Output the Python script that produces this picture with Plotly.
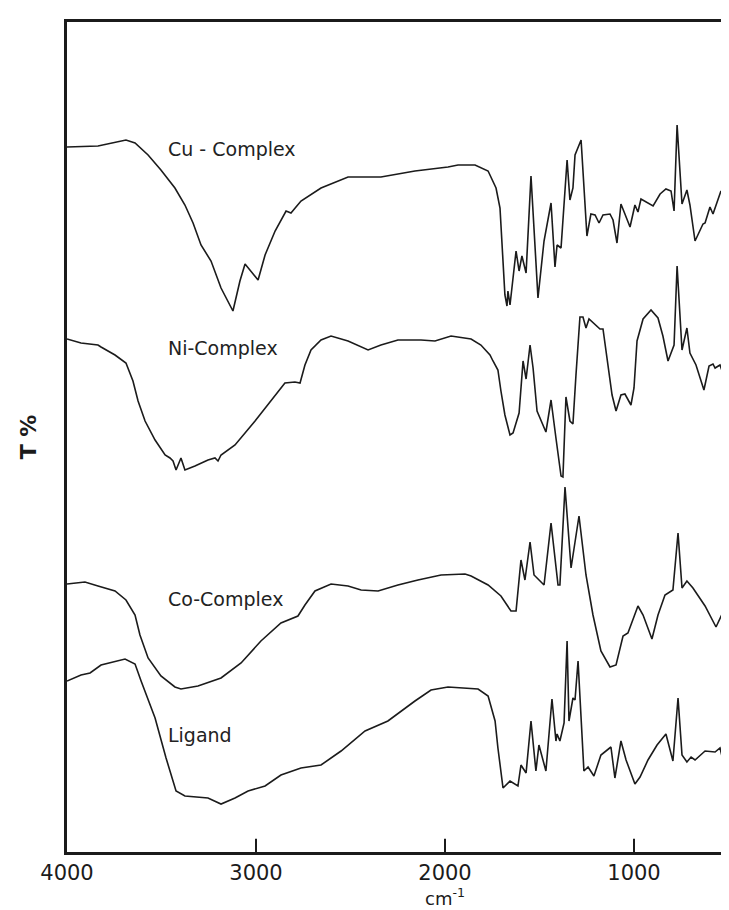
import plotly.graph_objects as go

# Wavenumber (cm^-1) and transmittance (arbitrary offset units)
cu_wn = [4000, 3836, 3688, 3640, 3571, 3503, 3429, 3376, 3333, 3291, 3238, 3185, 3122, 3085, 3058, 3026, 2989, 2952,
         2899, 2841, 2815, 2762, 2656, 2513, 2339, 2159, 1984, 1931, 1841, 1772, 1730, 1709, 1693, 1683, 1672, 1667,
         1656, 1624, 1608, 1593, 1571, 1545, 1508, 1476, 1439, 1418, 1407, 1386, 1354, 1339, 1323, 1312, 1280, 1249,
         1228, 1206, 1185, 1164, 1127, 1111, 1090, 1069, 1048, 1021, 995, 979, 963, 937, 899, 862, 831, 804, 788, 772,
         746, 720, 704, 677, 635, 624, 598, 582, 540, 519, 455]
cu_t = [70.5, 70.6, 71.2, 70.9, 69.7, 68.2, 66.4, 64.7, 62.9, 60.7, 59.1, 56.4, 54.1, 57.1, 58.8, 58.1, 57.2, 59.7,
        62.1, 64.1, 63.9, 65.1, 66.4, 67.5, 67.5, 68.1, 68.5, 68.7, 68.7, 68.1, 66.4, 64.4, 59.4, 55.7, 54.6, 56.1,
        54.7, 60.1, 58.1, 59.6, 57.9, 67.6, 55.4, 61.1, 64.9, 58.5, 60.7, 60.4, 69.2, 65.2, 66.4, 69.7, 71.2, 61.6,
        63.8, 63.7, 62.9, 63.7, 63.8, 63.2, 60.9, 64.8, 63.8, 62.5, 64.7, 64.0, 65.3, 65.0, 64.6, 65.8, 66.3, 66.1,
        64.1, 72.7, 64.8, 66.2, 64.7, 61.1, 62.8, 62.9, 64.5, 63.8, 66.1, 65.0, 65.5]

ni_wn = [4000, 3926, 3836, 3820, 3746, 3688, 3651, 3624, 3587, 3534, 3481, 3455, 3439, 3423, 3397, 3376, 3323, 3254,
         3217, 3201, 3185, 3111, 3005, 2899, 2847, 2794, 2767, 2741, 2709, 2656, 2603, 2513, 2407, 2339, 2249, 2127,
         2053, 1968, 1931, 1862, 1810, 1762, 1746, 1720, 1704, 1683, 1656, 1640, 1608, 1587, 1571, 1550, 1534, 1513,
         1466, 1439, 1413, 1386, 1376, 1360, 1339, 1323, 1307, 1286, 1270, 1254, 1238, 1206, 1180, 1164, 1143, 1116,
         1095, 1069, 1048, 1016, 1000, 984, 952, 910, 873, 847, 820, 788, 772, 746, 720, 704, 672, 630, 603, 582, 571,
         545, 524, 492, 455]
ni_t = [51.3, 50.9, 50.7, 50.5, 49.7, 48.9, 47.1, 45.1, 43.1, 41.2, 39.7, 39.4, 39.1, 38.2, 39.4, 38.2, 38.6, 39.2,
        39.4, 39.1, 39.7, 40.7, 43.1, 45.7, 46.9, 47.0, 46.9, 48.7, 50.2, 51.2, 51.6, 51.1, 50.2, 50.7, 51.2, 51.2,
        51.1, 51.6, 51.5, 51.3, 50.7, 49.7, 49.1, 48.2, 46.1, 43.7, 41.7, 41.9, 43.9, 49.1, 47.3, 50.7, 48.4, 44.1,
        42.0, 45.2, 41.4, 37.6, 37.5, 45.5, 43.1, 42.8, 47.7, 53.5, 53.5, 52.4, 53.3, 52.8, 52.3, 52.3, 49.4, 45.7,
        44.1, 45.7, 45.8, 44.7, 46.4, 51.1, 53.3, 54.2, 53.4, 51.6, 49.1, 50.7, 58.6, 50.2, 52.4, 49.9, 48.7, 46.2,
        48.6, 48.8, 48.4, 48.7, 47.6, 49.6, 50.4]

co_wn = [4000, 3905, 3836, 3746, 3688, 3640, 3614, 3571, 3503, 3429, 3397, 3307, 3185, 3079, 2974, 2868, 2778, 2741,
         2688, 2603, 2513, 2444, 2354, 2249, 2143, 2021, 1894, 1862, 1772, 1704, 1651, 1624, 1598, 1577, 1550, 1529,
         1497, 1476, 1439, 1402, 1392, 1365, 1333, 1291, 1254, 1217, 1175, 1127, 1095, 1058, 1032, 979, 952, 905, 873,
         836, 794, 767, 746, 720, 688, 624, 566, 519, 455]
co_t = [26.8, 27.0, 26.6, 26.1, 25.2, 23.7, 21.7, 19.4, 17.6, 16.5, 16.3, 16.6, 17.4, 18.9, 21.1, 22.9, 23.6, 24.7,
        26.1, 26.8, 26.6, 26.2, 26.1, 26.7, 27.2, 27.7, 27.8, 27.6, 26.7, 25.6, 24.1, 24.1, 29.2, 27.2, 31.0, 27.7,
        27.1, 26.7, 32.9, 26.7, 26.7, 36.5, 28.4, 33.6, 27.7, 23.7, 20.1, 18.5, 18.7, 21.6, 21.9, 24.6, 23.7, 21.3,
        23.7, 25.7, 26.2, 31.9, 26.4, 27.1, 26.4, 24.6, 22.5, 24.4, 26.4]

lig_wn = [4000, 3926, 3878, 3820, 3693, 3640, 3608, 3534, 3476, 3423, 3376, 3307, 3254, 3185, 3111, 3042, 2952, 2868,
          2762, 2656, 2550, 2423, 2302, 2159, 2074, 1984, 1878, 1825, 1772, 1735, 1720, 1693, 1656, 1614, 1598, 1571,
          1545, 1519, 1503, 1466, 1434, 1413, 1407, 1392, 1370, 1354, 1344, 1323, 1312, 1296, 1265, 1243, 1212, 1175,
          1122, 1101, 1069, 1042, 995, 968, 926, 878, 831, 794, 767, 746, 720, 698, 677, 624, 571, 545, 513, 455]
lig_t = [17.1, 17.7, 17.9, 18.7, 19.3, 18.8, 17.1, 13.4, 9.4, 6.1, 5.6, 5.5, 5.4, 4.8, 5.4, 6.1, 6.6, 7.7,
         8.4, 8.7, 10.1, 12.1, 13.1, 15.1, 16.2, 16.5, 16.4, 16.3, 15.6, 13.1, 10.4, 6.4, 7.1, 6.6, 8.7, 7.9,
         13.1, 8.1, 10.7, 8.1, 15.3, 11.1, 11.8, 11.1, 12.9, 21.1, 13.1, 15.4, 15.2, 19.1, 8.1, 8.5, 7.6, 9.7,
         10.5, 7.4, 11.1, 9.2, 6.8, 7.5, 9.2, 10.7, 11.8, 9.1, 15.4, 9.7, 9.0, 9.5, 9.2, 10.1, 10.0, 10.4, 7.9, 11.2]

series_names = ["Cu - Complex", "Ni-Complex", "Co-Complex", "Ligand"]
label_wn = 3475
label_t = [70.3, 50.4, 25.3, 11.7]

x_ticks = [4000, 3000, 2000, 1000]
x_tick_text = ["4000", "3000", "2000", "1000"]
x_title = "cm<sup>-1</sup>"
y_title = "<b>T %</b>"

LINE = "#1b1b1b"
FONT = "DejaVu Sans"

fig = go.Figure()
for name, xs, ys in [(series_names[0], cu_wn, cu_t), (series_names[1], ni_wn, ni_t),
                     (series_names[2], co_wn, co_t), (series_names[3], lig_wn, lig_t)]:
    fig.add_trace(go.Scatter(x=xs, y=ys, mode="lines", name=name,
                             line=dict(color=LINE, width=1.6), showlegend=False))

for name, t in zip(series_names, label_t):
    fig.add_annotation(x=label_wn, y=t, text=name, showarrow=False, xanchor="left", yanchor="middle",
                       font=dict(family=FONT, size=19, color="#222222"))

# inward tick marks on the bottom axis
for tv in x_ticks[1:]:
    fig.add_shape(type="line", xref="x", yref="paper", x0=tv, x1=tv, y0=0, y1=0.016,
                  line=dict(color=LINE, width=2))

# x-axis title placed below tick labels
fig.add_annotation(xref="paper", yref="paper", x=0.564, y=-0.0375, text=x_title, showarrow=False,
                   xanchor="center", yanchor="top", font=dict(family=FONT, size=18, color="#1b1b1b"))

fig.update_layout(
    width=729, height=910,
    margin=dict(l=59, r=0, t=14, b=66),
    paper_bgcolor="white", plot_bgcolor="white",
    font=dict(family=FONT, color="#1b1b1b"),
    xaxis=dict(range=[4000, 455], tickvals=x_ticks, ticktext=x_tick_text,
               ticks="inside", ticklen=13, tickwidth=2, tickcolor=LINE,
               showline=True, linecolor=LINE, linewidth=2.5, mirror=True,
               showgrid=False, zeroline=False,
               tickfont=dict(family=FONT, size=21, color="#1b1b1b")),
    yaxis=dict(range=[0, 83], showticklabels=False, ticks="", showline=True, linecolor=LINE, linewidth=3,
               showgrid=False, zeroline=False,
               title=dict(text=y_title, font=dict(family=FONT, size=22, color="#1b1b1b"), standoff=22)),
)

fig.write_html("out.html")
